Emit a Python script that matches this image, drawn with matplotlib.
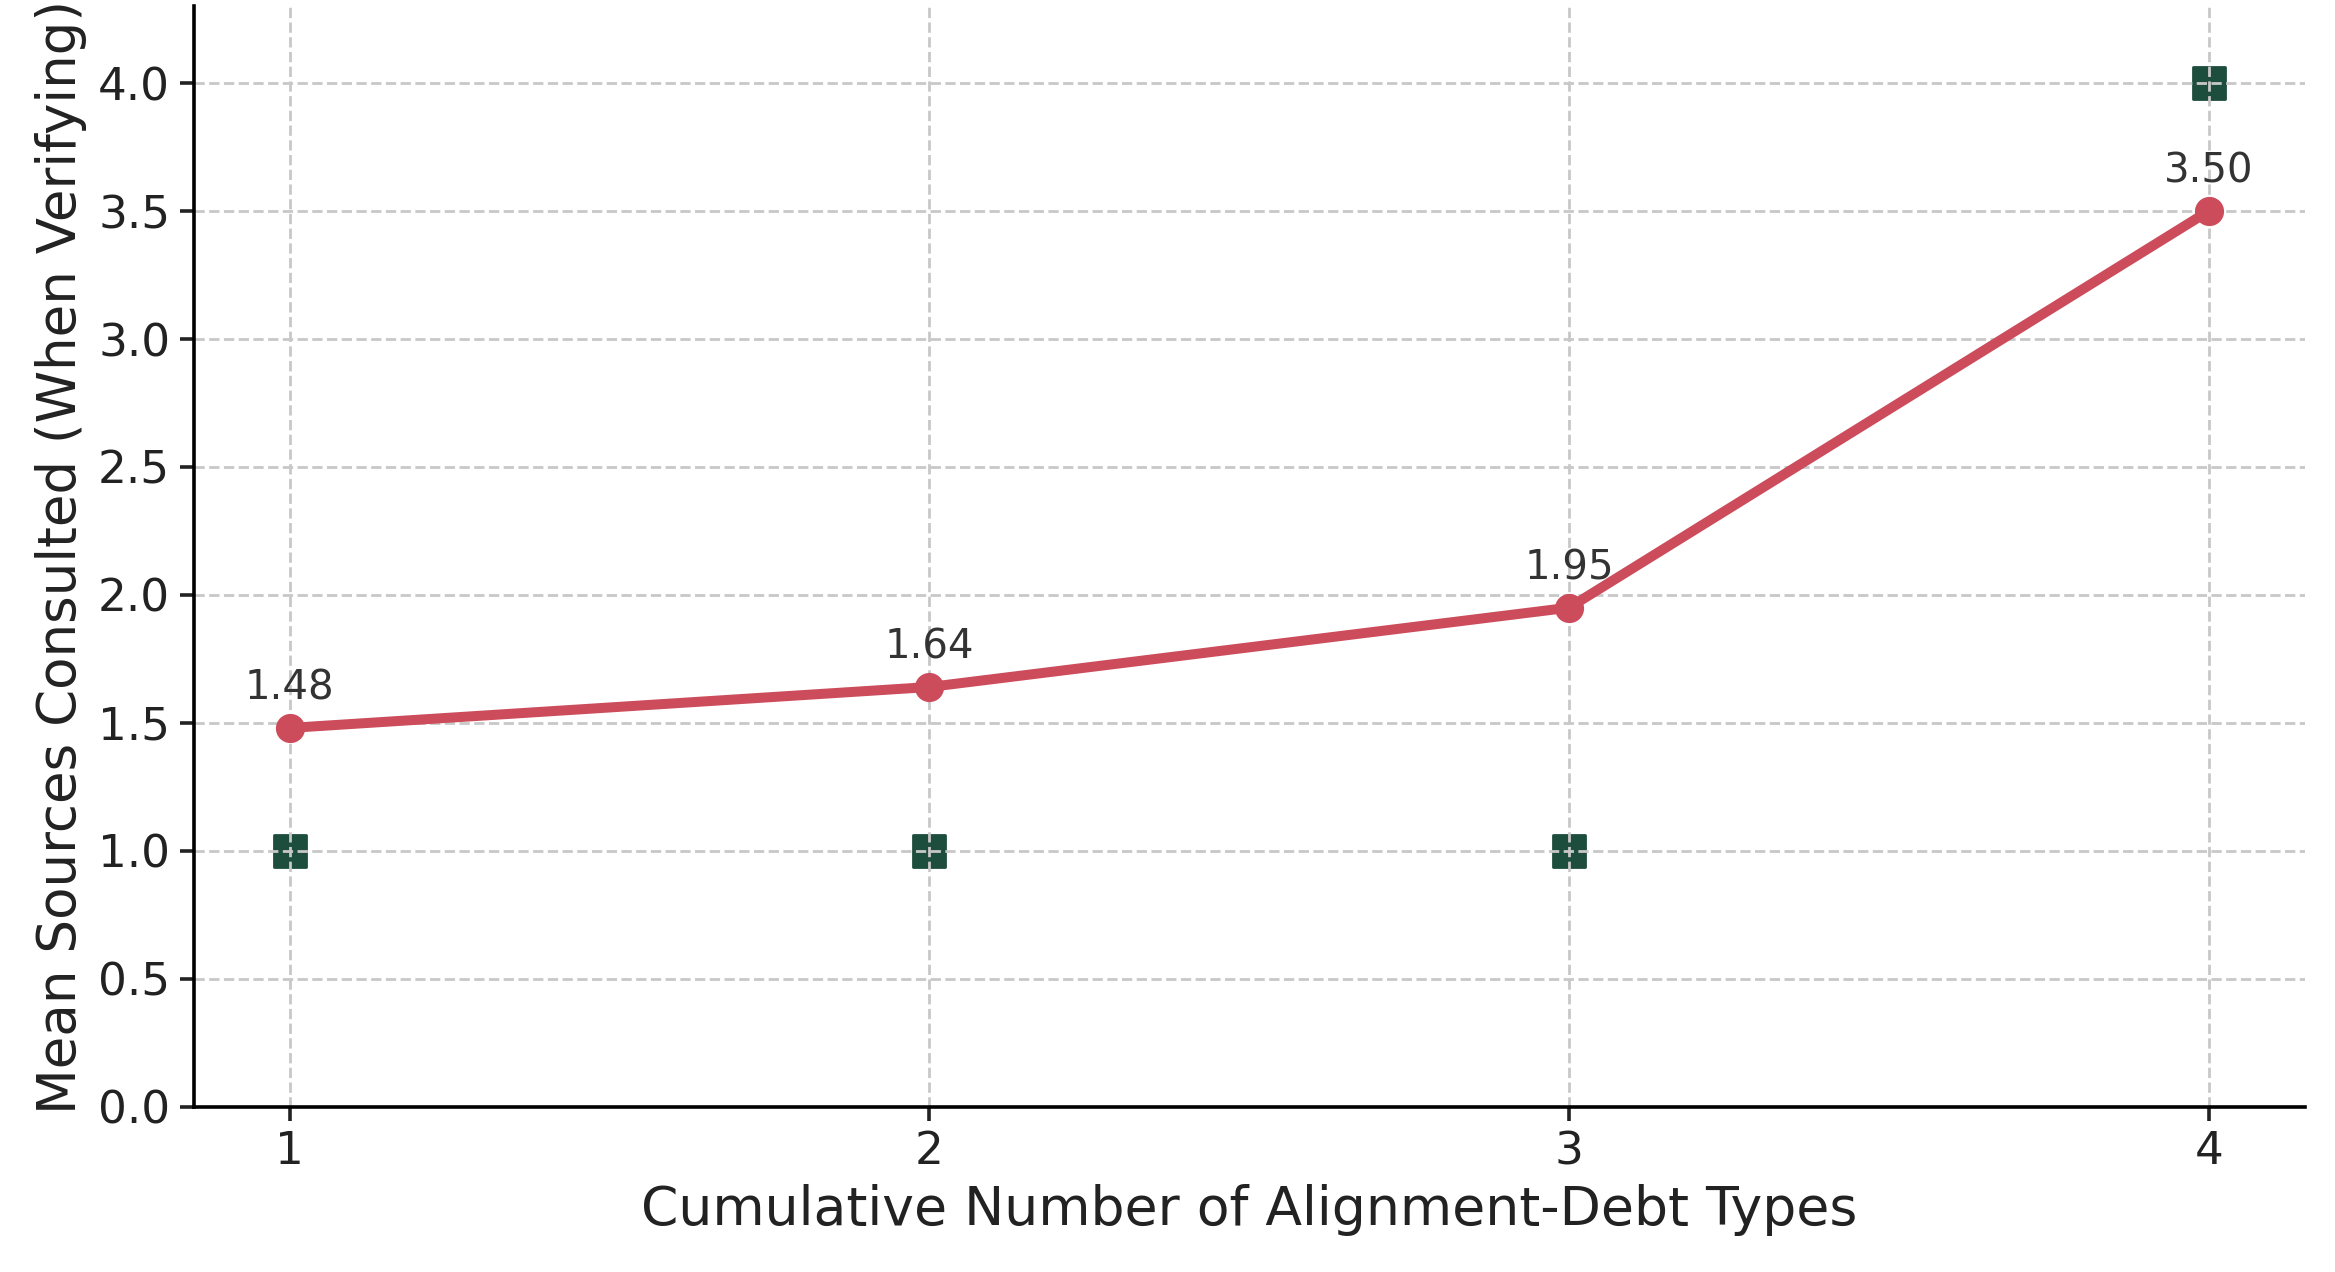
import numpy as np
import matplotlib
matplotlib.use('Agg')
import matplotlib.pyplot as plt

# cumulative number of alignment-debt types
n_types = [1, 2, 3, 4]
mean_sources = [1.48, 1.64, 1.95, 3.50]
median_sources = [1.0, 1.0, 1.0, 4.0]

red = '#cc4c5c'
green = '#1d4d3c'

fig = plt.figure(figsize=(11.675, 6.36), dpi=200)
ax = fig.add_axes([0.083, 0.130, 0.904, 0.865])

ax.scatter(n_types, median_sources, marker='s', s=135, color=green,
           edgecolors=green, linewidths=1, zorder=1)
ax.plot(n_types, mean_sources, '-o', color=red, lw=3.6, markersize=9.5, zorder=3)

for x, y in zip(n_types, mean_sources):
    ax.annotate('%.2f' % y, (x, y), textcoords='offset points', xytext=(0, 7),
                ha='center', va='bottom', fontsize=14.5, color='#333333')

ax.set_xlim(0.85, 4.15)
ax.set_ylim(0, 4.3)
ax.set_xticks(n_types)
ax.set_yticks(np.arange(0, 4.01, 0.5))
ax.set_yticklabels(['%.1f' % v for v in np.arange(0, 4.01, 0.5)])

ax.grid(True, linestyle='--', color='#c8c8c8', linewidth=1)
ax.spines['top'].set_visible(False)
ax.spines['right'].set_visible(False)
ax.spines['left'].set_linewidth(1.3)
ax.spines['bottom'].set_linewidth(1.3)
ax.tick_params(labelsize=16.3, colors='#222222', length=5, width=1.3)

ax.set_xlabel('Cumulative Number of Alignment-Debt Types', fontsize=19.3, color='#222222')
ax.set_ylabel('Mean Sources Consulted (When Verifying)', fontsize=19.1, color='#222222')

plt.savefig('out.png', dpi=200)
